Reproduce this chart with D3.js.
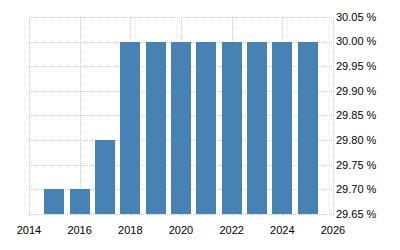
<!DOCTYPE html>
<html>
<head>
<meta charset="utf-8">
<script src="https://cdn.jsdelivr.net/npm/d3@7"></script>
<style>
  body { margin: 0; background: #fff; }
  svg { display: block; font-family: "Liberation Sans", Arial, sans-serif; }
</style>
</head>
<body>
<svg id="chart" width="400" height="250"></svg>
<script>
const width = 400;
const height = 250;

// data
const years = [2015, 2016, 2017, 2018, 2019, 2020, 2021, 2022, 2023, 2024, 2025];
const rates = [29.70, 29.70, 29.80, 30.00, 30.00, 30.00, 30.00, 30.00, 30.00, 30.00, 30.00];
const yTicks = [29.65, 29.70, 29.75, 29.80, 29.85, 29.90, 29.95, 30.00, 30.05];
const xTicks = [2014, 2016, 2018, 2020, 2022, 2024, 2026];

const margin = { top: 17, right: 67, bottom: 36, left: 29 };

const svg = d3.select("#chart");

const x = d3.scaleTime()
    .domain([new Date(2014, 0, 1), new Date(2026, 0, 1)])
    .range([margin.left, width - margin.right]);

const y = d3.scaleLinear()
    .domain([29.65, 30.05])
    .range([height - margin.bottom, margin.top]);

const barWidth = 20;

// horizontal grid
svg.append("g")
    .selectAll("line")
    .data(yTicks)
    .enter()
    .append("line")
    .attr("x1", margin.left)
    .attr("x2", width - margin.right)
    .attr("y1", d => Math.round(y(d)) + 0.5)
    .attr("y2", d => Math.round(y(d)) + 0.5)
    .attr("stroke", "#ccc")
    .attr("stroke-dasharray", "1,1");

// vertical grid
svg.append("g")
    .selectAll("line")
    .data(xTicks)
    .enter()
    .append("line")
    .attr("x1", d => Math.round(x(new Date(d, 0, 1))) + 0.5)
    .attr("x2", d => Math.round(x(new Date(d, 0, 1))) + 0.5)
    .attr("y1", margin.top)
    .attr("y2", height - margin.bottom + 3)
    .attr("stroke", "#ccc")
    .attr("stroke-dasharray", "1,1");

// bars
svg.append("g")
    .selectAll("rect")
    .data(years.map((yr, i) => ({ yr, v: rates[i] })))
    .enter()
    .append("rect")
    .attr("x", d => Math.round(x(new Date(d.yr, 0, 1)) - barWidth / 2))
    .attr("width", barWidth)
    .attr("y", d => Math.round(y(d.v)))
    .attr("height", d => Math.round(y(29.65)) - Math.round(y(d.v)))
    .attr("fill", "#4682b4");

// y labels (right side)
svg.append("g")
    .selectAll("text")
    .data(yTicks)
    .enter()
    .append("text")
    .attr("x", width - margin.right + 3)
    .attr("y", d => y(d))
    .attr("dy", "0.35em")
    .attr("font-size", 11)
    .attr("fill", "#000")
    .text(d => d3.format(".2f")(d) + " %");

// x labels
svg.append("g")
    .selectAll("text")
    .data(xTicks)
    .enter()
    .append("text")
    .attr("x", d => x(new Date(d, 0, 1)))
    .attr("y", height - margin.bottom + 20)
    .attr("text-anchor", "middle")
    .attr("font-size", 11)
    .attr("fill", "#000")
    .text(d => d);
</script>
</body>
</html>
